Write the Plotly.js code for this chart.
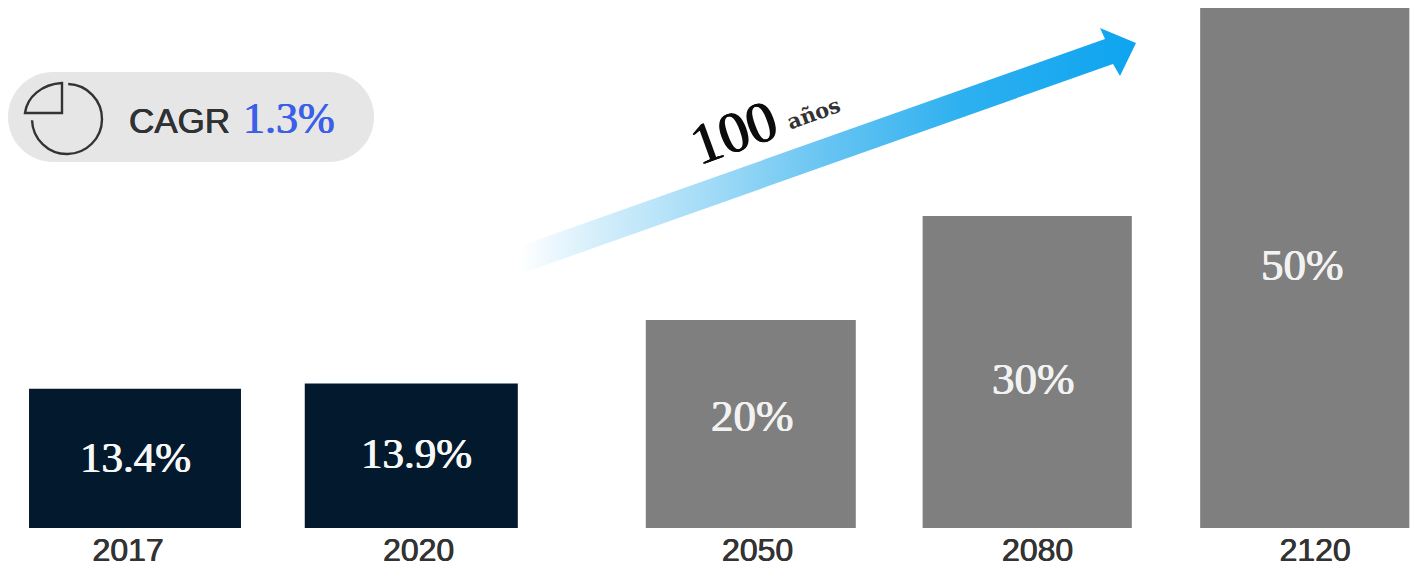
<!DOCTYPE html>
<html>
<head>
<meta charset="utf-8">
<script src="https://cdn.plot.ly/plotly-3.0.1.min.js"></script>
<style>html,body{margin:0;padding:0;background:#fff;overflow:hidden}#chart{width:1416px;height:567px}</style>
</head>
<body>
<div id="chart"></div>
<script>
// Share of the population over time
const historicYears = ['2017', '2020'];
const historicShare = [13.4, 13.9];
const projectedYears = ['2050', '2080', '2120'];
const projectedShare = [20, 30, 50];
const cagrLabel = '1.3%';
const spanValue = '100';
const spanUnit = 'años';

// Horizontal slots for the bars; the gap between 2020 and 2050 is a little wider
const historicSlots = [0, 0.9985];
const projectedSlots = [2.2255, 3.2245, 4.2275];
const historicTickSlots = [-0.025, 1.025];
const projectedTickSlots = [2.25, 3.262, 4.265];
const labelShifts = [[0, 1], [5, 2], [2, 8], [6, -7], [-2, 3]];

// Canvas layout helpers: the plot area spans the full width and stops above the year labels
const W = 1416, H = 567, BASE = 528, UNIT_PX = 10.4, SLOT_PX = 276.7, ORIGIN = 135;
const X = px => (px - ORIGIN) / SLOT_PX;
const Y = py => (BASE - py) / UNIT_PX;
const P = (px, py) => `${X(px)},${Y(py)}`;

// Thickens a serif's stems by a fraction of a pixel
const heavy = (c, d) => `${d}px 0 0 ${c}, -${d}px 0 0 ${c}`;

// Cubic approximation of a circular arc, angles in degrees, y pointing down
function arcPath(cx, cy, r, a0, a1) {
  const n = Math.ceil(Math.abs(a1 - a0) / 45);
  const step = (a1 - a0) / n * Math.PI / 180;
  const k = 4 / 3 * Math.tan(step / 4);
  let a = a0 * Math.PI / 180;
  let d = `M${P(cx + r * Math.cos(a), cy + r * Math.sin(a))}`;
  for (let i = 0; i < n; i++) {
    const b = a + step;
    d += `C${P(cx + r * (Math.cos(a) - k * Math.sin(a)), cy + r * (Math.sin(a) + k * Math.cos(a)))}` +
         ` ${P(cx + r * (Math.cos(b) + k * Math.sin(b)), cy + r * (Math.sin(b) - k * Math.cos(b)))}` +
         ` ${P(cx + r * Math.cos(b), cy + r * Math.sin(b))}`;
    a = b;
  }
  return d;
}

// Pill outline behind the growth rate
function pillPath(x0, y0, x1, y1) {
  const r = (y1 - y0) / 2, k = r * 0.5523;
  return `M${P(x0 + r, y0)}L${P(x1 - r, y0)}` +
    `C${P(x1 - r + k, y0)} ${P(x1, y0 + r - k)} ${P(x1, y0 + r)}` +
    `C${P(x1, y0 + r + k)} ${P(x1 - r + k, y1)} ${P(x1 - r, y1)}` +
    `L${P(x0 + r, y1)}` +
    `C${P(x0 + r - k, y1)} ${P(x0, y0 + r + k)} ${P(x0, y0 + r)}` +
    `C${P(x0, y0 + r - k)} ${P(x0 + r - k, y0)} ${P(x0 + r, y0)}Z`;
}

// Arrow outline on the canvas, tail to tip and back
const arrowOutline = [[520, 246], [1105, 39], [1100, 28], [1136, 43], [1120, 76], [1113, 64], [523, 273], [520, 246]];

const bar = (x, y, widths, color, names) => ({
  type: 'bar', x, y, width: widths, marker: {color, line: {width: 0}},
  customdata: names, hoverinfo: 'skip'
});

const traces = [
  bar(historicSlots, historicShare, [0.766, 0.77], '#031a2e', historicYears),
  bar(projectedSlots, projectedShare, [0.759, 0.756, 0.756], '#7f7f7f', projectedYears),
  {
    type: 'scatter', mode: 'lines',
    x: arrowOutline.map(p => X(p[0])), y: arrowOutline.map(p => Y(p[1])),
    line: {width: 0, color: 'rgba(0,0,0,0)'}, fill: 'toself',
    fillgradient: {
      type: 'horizontal',
      colorscale: [[0, '#ffffff'], [0.04, '#f0f9fe'], [0.12, '#d6effb'], [0.3, '#a4dcf7'], [0.5, '#66c4f2'], [0.72, '#2db0f0'], [1, '#0ea4f0']]
    },
    hoverinfo: 'skip'
  }
];

const allSlots = historicSlots.concat(projectedSlots);
const allShare = historicShare.concat(projectedShare);

const annotations = allShare.map((v, i) => {
  const dark = i < historicShare.length;
  return {
    x: allSlots[i], y: v / 2, xshift: labelShifts[i][0], yshift: labelShifts[i][1],
    text: `${v}%`, showarrow: false,
    font: dark
      ? {family: 'Liberation Serif', size: 43, color: '#f7f7f5', shadow: heavy('#f7f7f5', 0.6)}
      : {family: 'Liberation Serif', size: 45, color: '#f2f2f2', shadow: heavy('#f2f2f2', 0.4)}
  };
});

annotations.push(
  {x: X(127), y: Y(120), xanchor: 'left', yanchor: 'middle', text: 'CAGR', showarrow: false,
   font: {family: 'Liberation Sans', size: 35, color: '#2f3133', shadow: heavy('#2f3133', 0.4)}},
  {x: X(241), y: Y(118), xanchor: 'left', yanchor: 'middle', text: cagrLabel, showarrow: false,
   font: {family: 'Liberation Serif', size: 44, color: '#3b5fe8', shadow: heavy('#3b5fe8', 0.6)}},
  {x: X(733), y: Y(132), text: spanValue, textangle: -20, showarrow: false,
   font: {family: 'Liberation Serif', size: 58, color: '#0c0c0c', shadow: heavy('#0c0c0c', 0.8)}},
  {x: X(813), y: Y(113), text: `<b>${spanUnit}</b>`, textangle: -20, showarrow: false,
   font: {family: 'DejaVu Serif', size: 21, color: '#333333'}}
);

const shapes = [
  {type: 'path', layer: 'below', path: pillPath(8, 72, 374, 162), fillcolor: '#e6e6e6', line: {width: 0}},
  {type: 'path', path: arcPath(67, 119, 35, -88, 178), line: {color: '#333333', width: 2.4}},
  {type: 'path', path: `M${P(62, 113)}L${P(62, 83)}` +
    `C${P(42, 84)} ${P(27, 97)} ${P(25, 113)}L${P(62, 113)}Z`, line: {color: '#333333', width: 2.4}}
];

const layout = {
  width: W, height: H,
  margin: {l: 0, r: 0, t: 0, b: H - BASE, pad: 0},
  paper_bgcolor: '#ffffff', plot_bgcolor: '#ffffff',
  showlegend: false, barmode: 'overlay',
  xaxis: {
    range: [X(0), X(W)], showgrid: false, zeroline: false, showline: false, ticks: '', fixedrange: true,
    tickmode: 'array',
    tickvals: historicTickSlots.concat(projectedTickSlots),
    ticktext: historicYears.concat(projectedYears),
    tickfont: {family: 'Liberation Sans', size: 32, color: '#333333', shadow: heavy('#333333', 0.4)},
    tickangle: 0
  },
  yaxis: {range: [0, Y(0)], visible: false, fixedrange: true},
  annotations, shapes
};

Plotly.newPlot('chart', traces, layout, {displayModeBar: false, responsive: false});
</script>
</body>
</html>
